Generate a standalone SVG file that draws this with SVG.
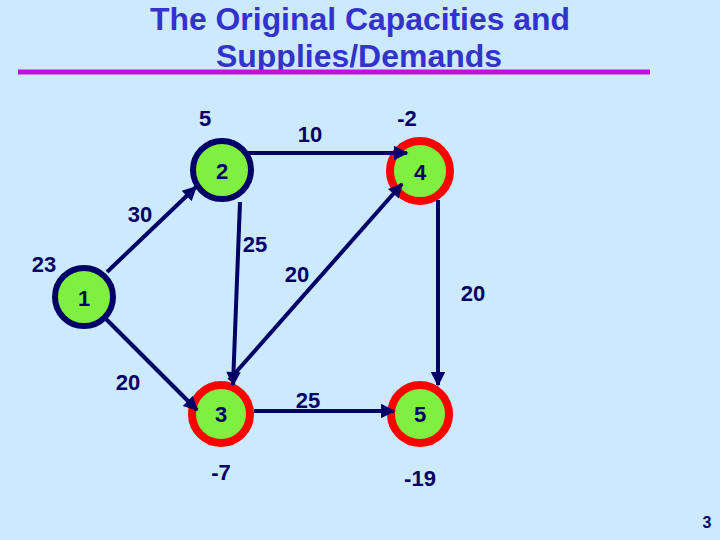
<svg xmlns="http://www.w3.org/2000/svg" width="720" height="540" viewBox="0 0 720 540">
<defs>
<marker id="ah" viewBox="0 0 10 10" refX="9" refY="5" markerWidth="4" markerHeight="3.6" orient="auto" markerUnits="strokeWidth">
<path d="M0,0 L10,5 L0,10 z" fill="#000066"/>
</marker>
</defs>
<style>
.title{font-family:"Liberation Sans",Arial,sans-serif;font-size:32px;font-weight:bold;fill:#3333cc;text-anchor:middle}
.lbl{font-family:"Liberation Sans",Arial,sans-serif;font-size:22px;font-weight:bold;fill:#000066;text-anchor:middle}
.nlbl{font-family:"Liberation Sans",Arial,sans-serif;font-size:22px;font-weight:bold;fill:#000066;text-anchor:middle}
.nodeA{fill:#80f040;stroke:#000066;stroke-width:6}
.nodeB{fill:#80f040;stroke:#ff0000;stroke-width:8}
.edge{stroke:#000066;stroke-width:4;fill:none;marker-end:url(#ah)}
</style>
<rect x="0" y="0" width="720" height="540" fill="#cce9fd"/>
<text class="title" x="360" y="30" textLength="420" lengthAdjust="spacingAndGlyphs">The Original Capacities and</text>
<text class="title" x="359" y="67" textLength="286" lengthAdjust="spacingAndGlyphs">Supplies/Demands</text>
<line x1="18" y1="72" x2="650" y2="72" stroke="#c010e0" stroke-width="5"/>
<g id="node1"><circle class="nodeA" cx="84" cy="297" r="29"/><text class="nlbl" x="84" y="306">1</text></g>
<g id="node2"><circle class="nodeA" cx="222" cy="170" r="29"/><text class="nlbl" x="222" y="179">2</text></g>
<g id="node3"><circle class="nodeB" cx="221" cy="414" r="29"/><text class="nlbl" x="221" y="422">3</text></g>
<g id="node4"><circle class="nodeB" cx="420" cy="171" r="30"/><text class="nlbl" x="420" y="180">4</text></g>
<g id="node5"><circle class="nodeB" cx="420" cy="414" r="29"/><text class="nlbl" x="420" y="422">5</text></g>
<g id="connectors">
<line class="edge" x1="248" y1="153" x2="407" y2="153"/>
<line class="edge" x1="240" y1="202" x2="233" y2="385"/>
<line class="edge" x1="107" y1="272" x2="196" y2="187"/>
<line class="edge" x1="106" y1="319" x2="197" y2="410"/>
<line class="edge" x1="254" y1="411" x2="394" y2="411"/>
<line class="edge" x1="438" y1="200" x2="438" y2="385"/>
<line class="edge" x1="229" y1="380" x2="402" y2="184"/>
</g>
<g id="labels">
<text class="lbl" x="205" y="126">5</text>
<text class="lbl" x="310" y="142">10</text>
<text class="lbl" x="407" y="126">-2</text>
<text class="lbl" x="140" y="222">30</text>
<text class="lbl" x="44" y="272">23</text>
<text class="lbl" x="255" y="252">25</text>
<text class="lbl" x="297" y="282">20</text>
<text class="lbl" x="473" y="301">20</text>
<text class="lbl" x="128" y="390">20</text>
<text class="lbl" x="308" y="408">25</text>
<text class="lbl" x="221" y="480">-7</text>
<text class="lbl" x="420" y="486">-19</text>
<text x="707" y="528" style="font-family:'Liberation Sans',Arial,sans-serif;font-size:16px;font-weight:bold;fill:#000066;text-anchor:middle">3</text>
</g>
</svg>
